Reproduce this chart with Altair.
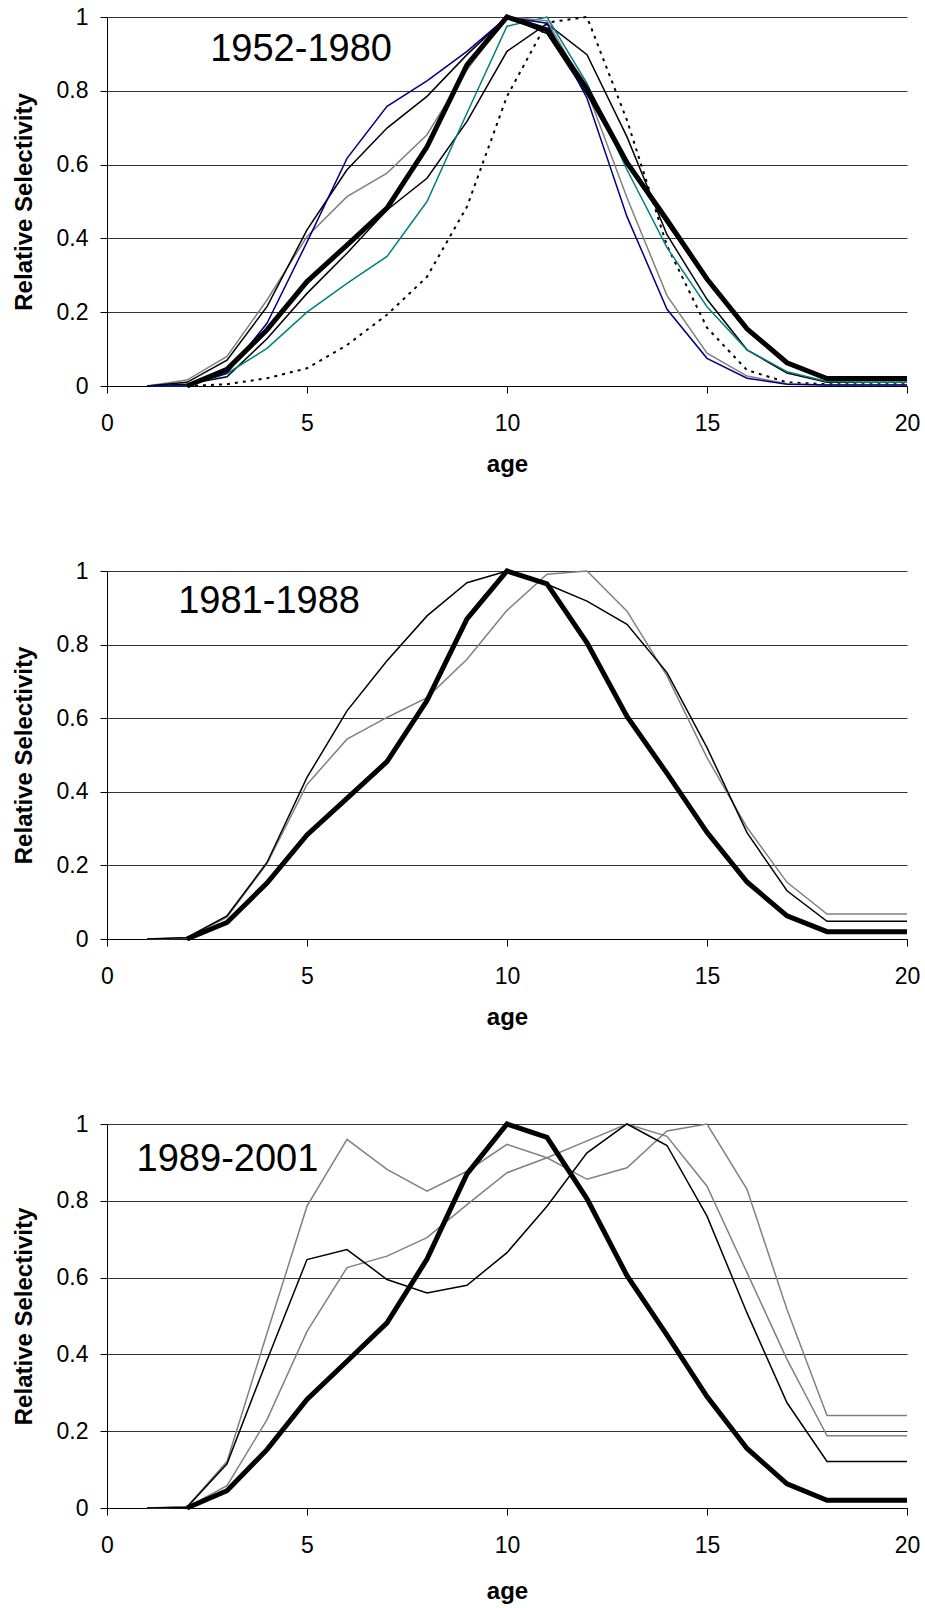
import altair as alt
import pandas as pd

# ---------------- data ----------------
ages = list(range(1, 21))

# reference (thick) curve, shown in all three panels (starts at age 2)
ref_curve = [None, 0.0, 0.045, 0.152, 0.283, 0.382, 0.482, 0.648, 0.87, 1.0,
             0.965, 0.805, 0.605, 0.45, 0.29, 0.155, 0.063, 0.02, 0.02, 0.02]

# panel 1: 1952-1980
p1_navy = [0.0, 0.0, 0.035, 0.17, 0.39, 0.617, 0.758, 0.827, 0.907, 1.0,
           0.983, 0.78, 0.459, 0.208, 0.075, 0.021, 0.005, 0.003, 0.003, 0.003]
p1_gray = [0.0, 0.016, 0.08, 0.233, 0.405, 0.513, 0.577, 0.681, 0.857, 1.0,
           0.99, 0.80, 0.51, 0.245, 0.089, 0.027, 0.006, 0.003, 0.003, 0.003]
p1_teal = [0.0, 0.0, 0.034, 0.102, 0.2, 0.278, 0.351, 0.5, 0.74, 0.975,
           1.0, 0.82, 0.586, 0.375, 0.215, 0.098, 0.039, 0.012, 0.01, 0.01]
p1_black_a = [0.0, 0.01, 0.07, 0.215, 0.423, 0.586, 0.699, 0.785, 0.898, 1.0,
              0.955, 0.79, 0.6, 0.44, 0.285, 0.15, 0.06, 0.02, 0.02, 0.02]
p1_black_b = [0.0, 0.005, 0.025, 0.128, 0.251, 0.36, 0.477, 0.563, 0.717, 0.907,
              0.982, 0.898, 0.675, 0.41, 0.235, 0.098, 0.035, 0.01, 0.01, 0.01]
p1_dotted = [0.0, 0.0, 0.005, 0.021, 0.048, 0.111, 0.193, 0.296, 0.486, 0.785,
             0.985, 1.0, 0.72, 0.38, 0.158, 0.043, 0.01, 0.005, 0.005, 0.005]

# panel 2: 1981-1988
p2_black = [0.0, 0.004, 0.063, 0.208, 0.439, 0.62, 0.756, 0.878, 0.968, 1.0,
            0.964, 0.918, 0.855, 0.724, 0.52, 0.289, 0.131, 0.048, 0.048, 0.048]
p2_gray = [0.0, 0.002, 0.059, 0.205, 0.42, 0.543, 0.602, 0.656, 0.76, 0.893,
           0.991, 1.0, 0.891, 0.715, 0.493, 0.303, 0.154, 0.068, 0.068, 0.068]

# panel 3: 1989-2001
p3_gray_a = [0.0, 0.003, 0.121, 0.455, 0.786, 0.96, 0.882, 0.825, 0.877, 0.947,
             0.912, 0.856, 0.886, 0.982, 1.0, 0.83, 0.517, 0.241, 0.241, 0.241]
p3_black = [0.0, 0.002, 0.115, 0.385, 0.647, 0.673, 0.595, 0.56, 0.58, 0.665,
            0.786, 0.925, 1.0, 0.944, 0.76, 0.508, 0.274, 0.121, 0.121, 0.121]
p3_gray_b = [0.0, 0.002, 0.058, 0.23, 0.46, 0.626, 0.656, 0.704, 0.79, 0.873,
             0.912, 0.956, 1.0, 0.968, 0.838, 0.613, 0.387, 0.188, 0.188, 0.188]

period_labels = ["1952-1980", "1981-1988", "1989-2001"]
label_age = [2.58, 1.78, 0.74]
label_value = [0.88, 0.887, 0.877]

x_ticks = [0, 5, 10, 15, 20]
y_ticks = [0, 0.2, 0.4, 0.6, 0.8, 1.0]

# ---------------- styles ----------------
FONT = "Liberation Sans"
thin = 1.5
thick = 5


def make_x_axis(title_pad):
    return alt.Axis(values=x_ticks, format="d", grid=False, domainColor="black",
                    domainWidth=1, tickColor="black", tickSize=7, tickWidth=1,
                    labelFont=FONT, labelFontSize=23, labelColor="black",
                    labelPadding=19, labelFlush=False, title="age",
                    titleFont=FONT, titleFontSize=24, titleFontWeight="bold",
                    titleColor="black", titlePadding=title_pad)


y_axis = alt.Axis(values=y_ticks, format=".1~f", grid=True, gridColor="#333333",
                  gridWidth=1, domainColor="black", domainWidth=1,
                  tickColor="black", tickSize=7, tickWidth=1, labelFont=FONT,
                  labelFontSize=23, labelColor="black", labelPadding=12,
                  title="Relative Selectivity", titleFont=FONT,
                  titleFontSize=24, titleFontWeight="bold", titleColor="black",
                  titlePadding=20)

y_enc = alt.Y("value:Q", scale=alt.Scale(domain=[0, 1], nice=False), axis=y_axis)


def x_enc(title_pad):
    return alt.X("age:Q", scale=alt.Scale(domain=[0, 20], nice=False),
                 axis=make_x_axis(title_pad))


def line_layer(values, color, width, pad, dash=None):
    df = pd.DataFrame({"age": ages, "value": values})
    kw = dict(color=color, strokeWidth=width, clip=False)
    if dash is not None:
        kw["strokeDash"] = dash
    return alt.Chart(df).mark_line(**kw).encode(x=x_enc(pad), y=y_enc)


def label_layer(i, pad):
    df = pd.DataFrame({"age": [label_age[i]], "value": [label_value[i]],
                       "t": [period_labels[i]]})
    return alt.Chart(df).mark_text(font=FONT, fontSize=38, align="left",
                                   baseline="alphabetic", color="black").encode(
        x=x_enc(pad), y=y_enc, text="t:N")


panel1 = alt.layer(
    line_layer(p1_dotted, "black", 2, 17, [3, 5]),
    line_layer(p1_black_b, "black", thin, 17),
    line_layer(p1_teal, "#008080", thin, 17),
    line_layer(p1_gray, "#808080", thin, 17),
    line_layer(p1_black_a, "black", thin, 17),
    line_layer(p1_navy, "#000080", thin, 17),
    line_layer(ref_curve, "black", thick, 17),
    label_layer(0, 17),
).properties(width=800, height=369)

panel2 = alt.layer(
    line_layer(p2_gray, "#808080", thin, 17),
    line_layer(p2_black, "black", thin, 17),
    line_layer(ref_curve, "black", thick, 17),
    label_layer(1, 17),
).properties(width=800, height=368)

panel3 = alt.layer(
    line_layer(p3_gray_b, "#808080", thin, 22),
    line_layer(p3_gray_a, "#808080", thin, 22),
    line_layer(p3_black, "black", thin, 22),
    line_layer(ref_curve, "black", thick, 22),
    label_layer(2, 22),
).properties(width=800, height=384)

chart = alt.VConcatChart(
    vconcat=[panel1, panel2, panel3], spacing=185, bounds="flush"
).properties(
    padding={"left": 12, "top": 6, "right": 5, "bottom": 5},
    background="white",
).configure_view(stroke=None)

chart.save("out.html", embed_options={"renderer": "svg", "actions": False})
